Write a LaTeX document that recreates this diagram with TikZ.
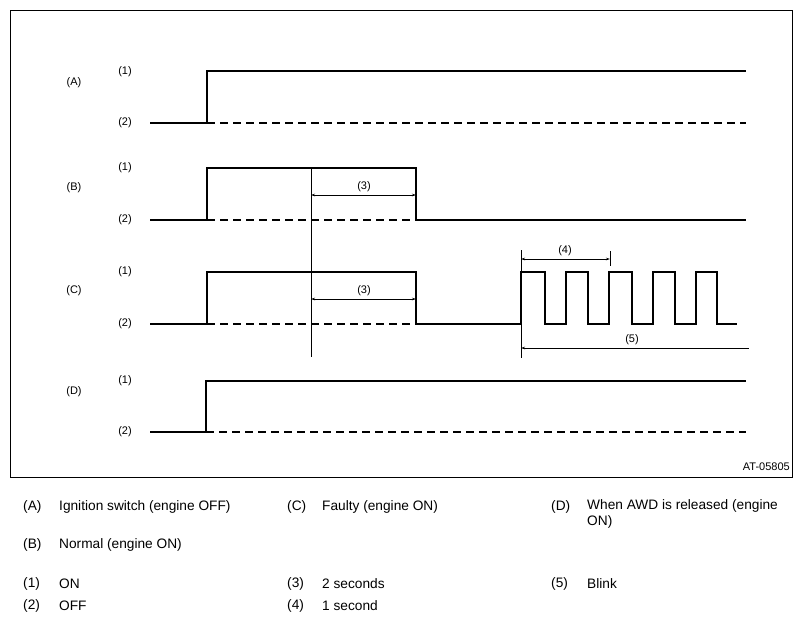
\documentclass[tikz,border=0pt]{standalone}
\usepackage{fontspec}
\setmainfont{Liberation Sans}
\usetikzlibrary{arrows.meta}
\begin{document}
\begin{tikzpicture}[x=1pt,y=-1pt,
  sig/.style={line width=1.8pt},
  offdash/.style={line width=1.5pt,dash pattern=on 8pt off 5pt},
  thin/.style={line width=0.8pt},
  dim/.style={line width=0.8pt,{Stealth[length=4pt,width=2.5pt]}-{Stealth[length=4pt,width=2.5pt]}},
  lbl/.style={font=\fontsize{11}{13}\selectfont,inner sep=0pt},
  leg/.style={font=\fontsize{13.7}{16}\selectfont,inner sep=0pt,anchor=west}]
\useasboundingbox (0,0) rectangle (803,622);
\draw[line width=0.9pt] (10,10) rectangle (792,477);

% row labels
\foreach \n/\y in {A/83,B/188,C/291,D/392}{\node[lbl] (row\n) at (74,\y) {(\n)};}
\foreach \n/\a/\b in {A/72/123,B/168/220,C/272/324,D/381/432}{
  \node[lbl] (on\n) at (125,\a) {(1)};
  \node[lbl] (off\n) at (125,\b) {(2)};
}

% A
\draw[sig] (150,123) -- (207,123) -- (207,71) -- (746,71);
\draw[offdash] (207,123) -- (746,123);
% B
\draw[sig] (150,220) -- (207,220) -- (207,168) -- (416,168) -- (416,220) -- (746,220);
\draw[offdash] (207,220) -- (416,220);
% C
\draw[sig] (150,324) -- (207,324) -- (207,272) -- (416,272) -- (416,324) -- (521,324)
  -- (521,272) -- (545,272) -- (545,324) -- (566,324) -- (566,272) -- (588,272) -- (588,324)
  -- (609,324) -- (609,272) -- (632,272) -- (632,324) -- (653,324) -- (653,272) -- (675,272)
  -- (675,324) -- (696,324) -- (696,272) -- (717,272) -- (717,324) -- (737,324);
\draw[offdash] (207,324) -- (416,324);
% D
\draw[sig] (150,432) -- (206,432) -- (206,381) -- (746,381);
\draw[offdash] (206,432) -- (746,432);

% timing marks
\coordinate (t0) at (311,168);
\coordinate (t0b) at (311,357);
\draw[thin] (t0) -- (t0b);
\coordinate (b3l) at (311,195); \coordinate (b3r) at (416,195);
\draw[dim] (b3l) -- (b3r);
\node[lbl] (l3b) at (364,187) {(3)};
\coordinate (c3l) at (311,299); \coordinate (c3r) at (416,299);
\draw[dim] (c3l) -- (c3r);
\node[lbl] (l3c) at (364,291) {(3)};

\coordinate (k0) at (521,250); \coordinate (k0b) at (521,358);
\draw[thin] (k0) -- (k0b);
\coordinate (k1) at (610,251); \coordinate (k1b) at (610,266);
\draw[thin] (k1) -- (k1b);
\coordinate (f4l) at (521,259); \coordinate (f4r) at (610,259);
\draw[dim] (f4l) -- (f4r);
\node[lbl] (l4) at (565,251) {(4)};
\coordinate (f5l) at (521,348); \coordinate (f5r) at (749,348);
\draw[thin,{Stealth[length=4pt,width=2.5pt]}-] (f5l) -- (f5r);
\node[lbl] (l5) at (632,340) {(5)};

\node[lbl,anchor=east] (code) at (790,467) {AT-05805};

% legend
\node[leg] (kA) at (23,507) {(A)};
\node[leg] (tA) at (59,507) {Ignition switch (engine OFF)};
\node[leg] (kB) at (23,545) {(B)};
\node[leg] (tB) at (59,545) {Normal (engine ON)};
\node[leg] (kC) at (287,507) {(C)};
\node[leg] (tC) at (322,507) {Faulty (engine ON)};
\node[leg] (kD) at (551,507) {(D)};
\node[leg,align=left,anchor=north west] (tD) at (587,499) {When AWD is released (engine\\ON)};
\node[leg] (k1) at (23,584) {(1)};
\node[leg] (t1) at (59,584) {ON};
\node[leg] (k2) at (23,606) {(2)};
\node[leg] (t2) at (59,606) {OFF};
\node[leg] (k3) at (287,584) {(3)};
\node[leg] (t3) at (322,584) {2 seconds};
\node[leg] (k4) at (287,606) {(4)};
\node[leg] (t4) at (322,606) {1 second};
\node[leg] (k5) at (551,584) {(5)};
\node[leg] (t5) at (587,584) {Blink};
\end{tikzpicture}
\end{document}
